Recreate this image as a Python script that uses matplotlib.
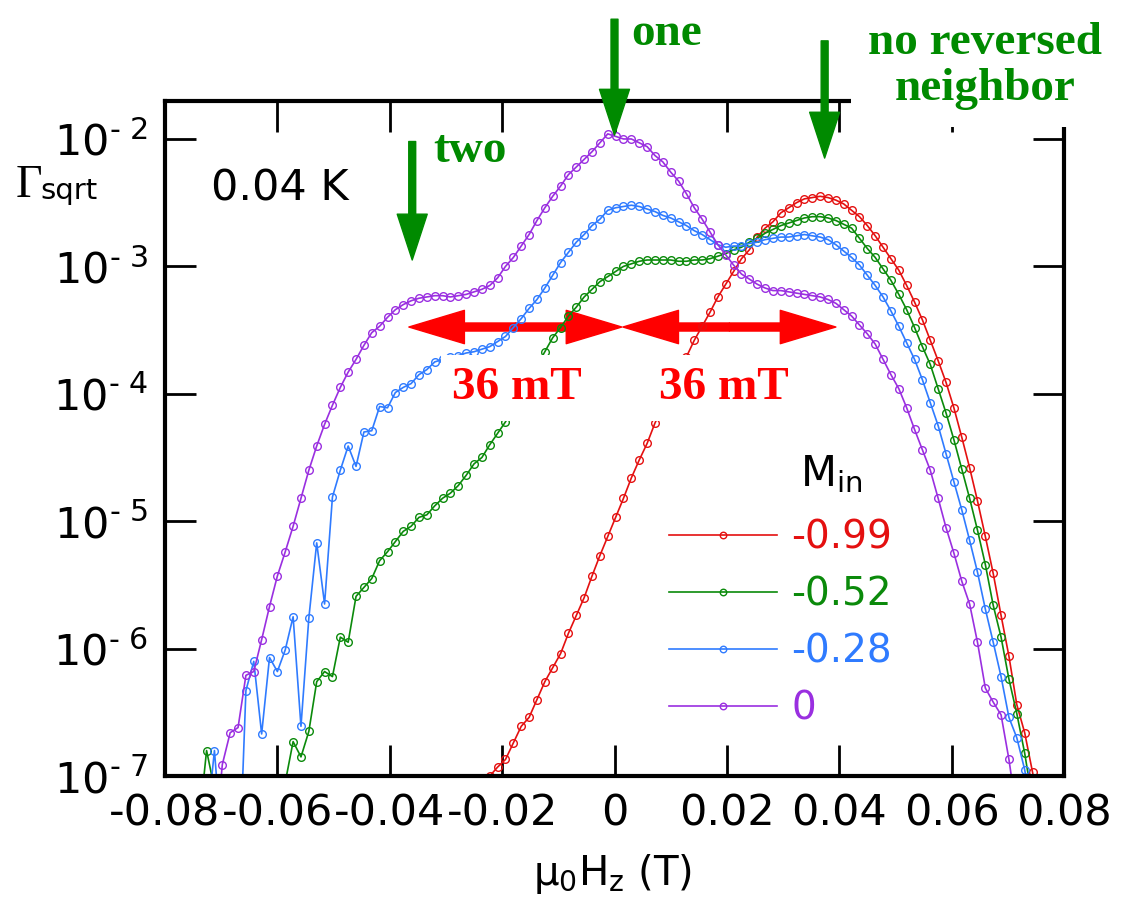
import matplotlib.pyplot as plt
import numpy as np

# field sweep: 1.4 mT steps, index k = -55 ... 55
field = np.arange(-55, 56) * 0.0014 - 0.0012

# log10(Gamma_sqrt); each list starts at field index k_start
red_k0 = -16
red_log = [-7.3, -7.00, -6.93, -6.87, -6.74, -6.61, -6.54, -6.40, -6.26, -6.15,
           -6.04, -5.88, -5.74, -5.60, -5.43, -5.27, -5.12, -4.97, -4.82, -4.66,
           -4.52, -4.39, -4.23, -4.10, -3.97, -3.84, -3.71, -3.58, -3.47, -3.36,
           -3.24, -3.14, -3.04, -2.94, -2.87, -2.77, -2.70, -2.65, -2.58, -2.54,
           -2.50, -2.47, -2.46, -2.45, -2.46, -2.48, -2.51, -2.56, -2.61, -2.68,
           -2.76, -2.85, -2.94, -3.03, -3.15, -3.28, -3.42, -3.58, -3.74, -3.91,
           -4.11, -4.34, -4.58, -4.84, -5.12, -5.41, -5.74, -6.06, -6.44, -6.66,
           -6.97, -7.30]

green_k0 = -52
green_log = [-7.4, -6.80, -7.1, -8.0, -8.0, -8.0, -8.0, -8.0, -8.0, -8.0, -8.0,
             -7.05, -6.73, -6.85, -6.65, -6.26, -6.18, -6.22, -5.91, -5.95, -5.59,
             -5.52, -5.45, -5.31, -5.24, -5.16, -5.08, -5.04, -4.97, -4.95, -4.88,
             -4.82, -4.78, -4.72, -4.64, -4.55, -4.50, -4.40, -4.31, -4.22, -4.11,
             -4.00, -3.89, -3.78, -3.67, -3.56, -3.48, -3.39, -3.32, -3.24, -3.18,
             -3.12, -3.08, -3.04, -3.00, -2.98, -2.96, -2.95, -2.95, -2.95, -2.95,
             -2.96, -2.96, -2.95, -2.95, -2.94, -2.92, -2.90, -2.87, -2.85, -2.81,
             -2.78, -2.74, -2.71, -2.68, -2.66, -2.64, -2.62, -2.61, -2.61, -2.62,
             -2.64, -2.67, -2.70, -2.78, -2.86, -2.93, -3.02, -3.11, -3.22, -3.34,
             -3.48, -3.63, -3.77, -3.96, -4.15, -4.36, -4.59, -4.82, -5.07, -5.34,
             -5.66, -5.91, -6.24, -6.51, -6.82, -7.20]

blue_k0 = -51
blue_log = [-7.4, -6.80, -7.6, -8.0, -8.0, -6.33, -6.10, -6.67, -6.07, -6.18,
            -6.01, -5.75, -6.61, -5.76, -5.17, -5.65, -4.81, -4.60, -4.41, -4.57,
            -4.30, -4.29, -4.10, -4.11, -3.99, -3.95, -3.92, -3.85, -3.81, -3.75,
            -3.73, -3.71, -3.70, -3.68, -3.67, -3.65, -3.63, -3.59, -3.55, -3.48,
            -3.41, -3.33, -3.26, -3.17, -3.07, -2.97, -2.89, -2.81, -2.75, -2.68,
            -2.63, -2.56, -2.54, -2.53, -2.52, -2.53, -2.55, -2.57, -2.60, -2.62,
            -2.65, -2.68, -2.72, -2.75, -2.79, -2.83, -2.85, -2.84, -2.84, -2.82,
            -2.81, -2.79, -2.78, -2.77, -2.77, -2.76, -2.75, -2.76, -2.77, -2.79,
            -2.83, -2.88, -2.93, -2.99, -3.07, -3.15, -3.24, -3.35, -3.47, -3.60,
            -3.73, -3.89, -4.07, -4.25, -4.47, -4.69, -4.91, -5.15, -5.40, -5.69,
            -5.95, -6.22, -6.54, -6.70, -6.95, -7.30]

purple_k0 = -50
purple_log = [-7.6, -6.91, -6.66, -6.62, -6.21, -6.18, -5.93, -5.67, -5.43, -5.24,
              -5.04, -4.82, -4.60, -4.41, -4.24, -4.09, -3.95, -3.83, -3.73, -3.62,
              -3.52, -3.47, -3.40, -3.34, -3.30, -3.27, -3.25, -3.24, -3.23, -3.23,
              -3.24, -3.23, -3.22, -3.20, -3.18, -3.15, -3.09, -3.00, -2.93, -2.84,
              -2.75, -2.64, -2.54, -2.45, -2.37, -2.28, -2.22, -2.16, -2.10, -2.03,
              -1.96, -1.98, -2.00, -2.00, -2.03, -2.06, -2.13, -2.18, -2.26, -2.33,
              -2.43, -2.54, -2.63, -2.73, -2.83, -2.91, -2.99, -3.06, -3.10, -3.14,
              -3.17, -3.19, -3.19, -3.20, -3.21, -3.22, -3.23, -3.24, -3.26, -3.29,
              -3.34, -3.39, -3.46, -3.53, -3.61, -3.73, -3.85, -3.96, -4.11, -4.28,
              -4.44, -4.60, -4.82, -5.05, -5.25, -5.47, -5.65, -5.95, -6.31, -6.42,
              -6.52, -6.87, -7.30]

labels = ['-0.99', '-0.52', '-0.28', '0']
colors = ['#e41010', '#0b8a0b', '#2f7bff', '#9a2fe0']
series = [(red_k0, red_log), (green_k0, green_log),
          (blue_k0, blue_log), (purple_k0, purple_log)]

xticks = [-0.08, -0.06, -0.04, -0.02, 0, 0.02, 0.04, 0.06, 0.08]
xtick_labels = ['-0.08', '-0.06', '-0.04', '-0.02', '0', '0.02', '0.04', '0.06', '0.08']
ytick_exps = [-2, -3, -4, -5, -6, -7]

green = '#008a00'
red = '#ff0000'
serif = ['Liberation Serif', 'DejaVu Serif']

fig = plt.figure(figsize=(11.27, 9.0), dpi=100)
ax = fig.add_axes([165 / 1127, 124 / 900, 899 / 1127, 675 / 900])

lines = []
for (k0, vals), c, lab in zip(series, colors, labels):
    i0 = k0 + 55
    x = field[i0:i0 + len(vals)]
    y = 10 ** np.array(vals)
    ln, = ax.plot(x, y, '-o', color=c, lw=1.2, ms=5.5, mfc='none', mew=1.0,
                  label=lab, zorder=2)
    lines.append(ln)

ax.set_yscale('log')
ax.set_xlim(-0.08, 0.08)
ax.set_ylim(1e-7, 10 ** -1.702)
ax.set_xticks(xticks)
ax.set_xticklabels(xtick_labels)
ax.set_yticks([10.0 ** e for e in ytick_exps])
ax.set_yticklabels(['$\\mathregular{10^{\u2010\\ %d}}$' % -e for e in ytick_exps])
ax.yaxis.set_minor_locator(plt.NullLocator())
ax.tick_params(direction='in', length=22, width=2, top=True, right=True,
               labelsize=31, pad=12)
for s in ax.spines.values():
    s.set_linewidth(3)


def arrow(x0, y0, x1, y1, color, width, hw, hl, z):
    ax.annotate('', xy=(x1, y1), xytext=(x0, y0), annotation_clip=False,
                arrowprops=dict(color=color, width=width, headwidth=hw,
                                headlength=hl, shrink=0), zorder=z)


# red double arrows (36 mT)
ya = 10 ** -3.476
for a, b in [(-0.0366, 0.0013), (0.0015, 0.0394)]:
    m = (a + b) / 2
    arrow(m, ya, a, ya, red, 5.8, 24, 40, 1.5)
    arrow(m, ya, b, ya, red, 5.8, 24, 40, 1.5)
for xc in [-0.0173, 0.0195]:
    ax.text(xc, 10 ** -4.041, '36 mT', color=red, fontsize=34, fontweight='bold',
            family=serif, ha='center', va='baseline', zorder=4,
            bbox=dict(boxstyle='square,pad=0.25', fc='white', ec='none'))

# green arrows
arrow(0.0, 10 ** -1.06, 0.0, 10 ** -1.97, green, 5, 21.6, 33, 3)
arrow(-0.036, 10 ** -2.02, -0.036, 10 ** -2.95, green, 5, 21.6, 33, 3)
arrow(0.0374, 10 ** -1.23, 0.0374, 10 ** -2.15, green, 5, 21.6, 33, 3)
ax.text(0.0029, 10 ** -1.262, 'one', color=green, fontsize=34, fontweight='bold',
        family=serif, ha='left', va='baseline', zorder=5)
ax.text(-0.0323, 10 ** -2.18, 'two', color=green, fontsize=34, fontweight='bold',
        family=serif, ha='left', va='baseline', zorder=5)
ax.text(0.0659, 10 ** -1.694, 'no reversed\nneighbor', color=green, fontsize=34,
        fontweight='bold', family=serif, ha='center', va='baseline',
        linespacing=1.12, zorder=6,
        bbox=dict(boxstyle='square,pad=0.36', fc='white', ec='none'))

ax.text(0.051, 0.853, '0.04 K', transform=ax.transAxes, fontsize=31,
        va='baseline', ha='left')

# legend
ax.text(0.706, 0.4296, 'M$_\\mathregular{in}$', transform=ax.transAxes,
        fontsize=30, va='baseline', ha='left')
ax.legend(lines, labels, loc='upper left', bbox_to_anchor=(0.5606, 0.382),
          frameon=False, fontsize=28, handlelength=2.78, handletextpad=0.36,
          labelspacing=0.49, borderpad=0, borderaxespad=0,
          labelcolor='linecolor', markerscale=0.85)

# axis labels
fig.text(16 / 1127, 1 - 197 / 900, '\u0393', family=serif, fontsize=33,
         va='baseline', ha='left')
fig.text(40 / 1127, 1 - 199 / 900, 'sqrt', fontsize=21, va='baseline', ha='left')
fig.text(612 / 1127, 1 - 885 / 900, '\u03bc$_\\mathregular{0}$H$_\\mathregular{z}$ (T)',
         fontsize=29, ha='center', va='baseline')

fig.savefig('out.png', dpi=100)
